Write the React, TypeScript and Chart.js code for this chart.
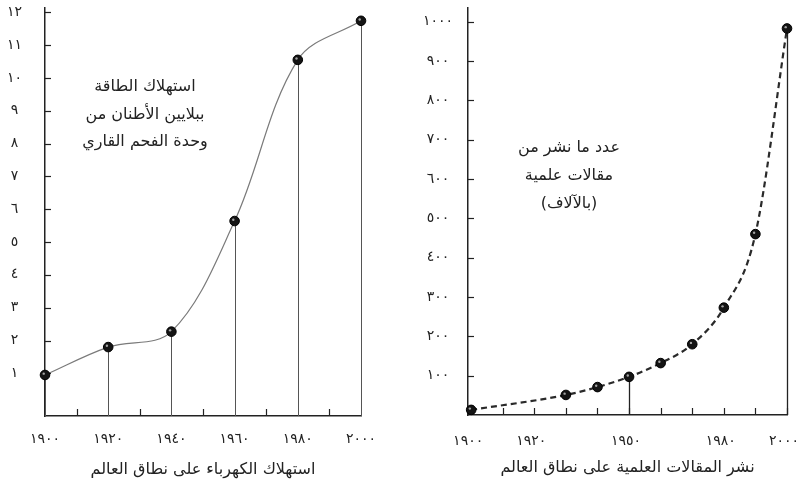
import React, { useEffect, useRef } from 'react';
import { Chart, registerables } from 'chart.js';

Chart.register(...registerables);

// ---------- Data: world energy consumption (left chart) ----------
const energyYears = [1900, 1920, 1940, 1960, 1980, 2000];
const energyValues = [0.95, 1.8, 2.27, 5.64, 10.55, 11.74];
const energyYTicks = [1, 2, 3, 4, 5, 6, 7, 8, 9, 10, 11, 12];
const energyXTicks = [1900, 1920, 1940, 1960, 1980, 2000];
const energyMinorXTicks = [1910, 1930, 1950, 1970, 1990];
const energyTitle = 'استهلاك الكهرباء على نطاق العالم';
const energyNote = ['استهلاك الطاقة', 'ببلايين الأطنان من', 'وحدة الفحم القاري'];

// ---------- Data: scientific papers published (right chart) ----------
const paperYears = [1900, 1930, 1940, 1950, 1960, 1970, 1980, 1990, 2000];
const paperValues = [13, 51, 71, 97, 132, 180, 273, 460, 983];
const paperDropYears = [1950, 2000];
const paperYTicks = [100, 200, 300, 400, 500, 600, 700, 800, 900, 1000];
const paperXTicks = [1900, 1920, 1950, 1980, 2000];
const paperDecadeTicks = [1900, 1910, 1920, 1930, 1940, 1950, 1960, 1970, 1980, 1990, 2000];
const paperTitle = 'نشر المقالات العلمية على نطاق العالم';
const paperNote = ['عدد ما نشر من', 'مقالات علمية', '(بالآلاف)'];

const FONT = '"DejaVu Sans", sans-serif';
const INK = '#222';

const toArabicDigits = (v: number | string) =>
  String(v).replace(/\d/g, (d) => '٠١٢٣٤٥٦٧٨٩'[Number(d)]);

type DecorCfg = {
  years: number[];
  dropYears: number[];
  yTicks: number[];
  xTicks: number[];
  note: string[];
  noteX: number; // offset from chart left
  noteBaselines: number[]; // offsets from chart top
  dropColor: string;
  dropWidth: number;
};

const makeDecor = (cfg: DecorCfg) => ({
  id: 'decor',
  beforeDatasetsDraw(chart: any) {
    const { ctx, chartArea, scales } = chart;
    const xs = scales.x;
    const ys = scales.y;
    ctx.save();
    // drop lines
    const meta = chart.getDatasetMeta(0);
    ctx.strokeStyle = cfg.dropColor;
    ctx.lineWidth = cfg.dropWidth;
    meta.data.forEach((pt: any, i: number) => {
      if (cfg.dropYears.includes(cfg.years[i])) {
        ctx.beginPath();
        ctx.moveTo(Math.round(pt.x) + 0.5, pt.y);
        ctx.lineTo(Math.round(pt.x) + 0.5, chartArea.bottom);
        ctx.stroke();
      }
    });
    // inner tick marks
    ctx.strokeStyle = INK;
    ctx.lineWidth = 1.2;
    cfg.yTicks.forEach((v) => {
      const py = Math.round(ys.getPixelForValue(v)) + 0.5;
      ctx.beginPath();
      ctx.moveTo(chartArea.left, py);
      ctx.lineTo(chartArea.left + 6, py);
      ctx.stroke();
    });
    cfg.xTicks.forEach((v) => {
      const px = Math.round(xs.getPixelForValue(v)) + 0.5;
      ctx.beginPath();
      ctx.moveTo(px, chartArea.bottom);
      ctx.lineTo(px, chartArea.bottom - 7);
      ctx.stroke();
    });
    // annotation text
    ctx.fillStyle = INK;
    ctx.font = `16px ${FONT}`;
    ctx.textAlign = 'center';
    ctx.textBaseline = 'alphabetic';
    (ctx as any).direction = 'rtl';
    cfg.note.forEach((line, i) => {
      ctx.fillText(line, chartArea.left + cfg.noteX, chartArea.top + cfg.noteBaselines[i]);
    });
    ctx.restore();
  },
  afterDatasetsDraw(chart: any) {
    const { ctx } = chart;
    const meta = chart.getDatasetMeta(0);
    ctx.save();
    ctx.fillStyle = 'rgba(200,200,200,0.8)';
    meta.data.forEach((pt: any) => {
      ctx.beginPath();
      ctx.arc(pt.x - 1.3, pt.y - 1.3, 1.2, 0, Math.PI * 2);
      ctx.fill();
    });
    ctx.restore();
  },
});

const tickFont = { family: FONT, size: 14 };
const titleFont = { family: FONT, size: 16 };

export default function App() {
  const leftRef = useRef<HTMLCanvasElement>(null);
  const rightRef = useRef<HTMLCanvasElement>(null);

  useEffect(() => {
    const left = new Chart(leftRef.current!, {
      type: 'line',
      data: {
        datasets: [
          {
            data: energyYears.map((x, i) => ({ x, y: energyValues[i] })),
            borderColor: '#7a7a7a',
            borderWidth: 1.2,
            tension: 0.35,
            pointRadius: 4.8,
            pointBackgroundColor: '#141414',
            pointBorderColor: '#000',
            pointBorderWidth: 1,
            fill: false,
            clip: false,
          } as any,
        ],
      },
      options: {
        responsive: false,
        devicePixelRatio: 1,
        animation: false,
        events: [],
        layout: { padding: { top: 8, right: 39, left: 0, bottom: 0 } },
        plugins: { legend: { display: false }, tooltip: { enabled: false } },
        scales: {
          x: {
            type: 'linear',
            min: 1900,
            max: 2000,
            afterBuildTicks: (s: any) => {
              s.ticks = energyXTicks.map((value) => ({ value }));
            },
            afterFit: (s: any) => {
              s.height = 72;
              s.paddingLeft = 0;
              s.paddingRight = 0;
            },
            grid: { display: false, drawTicks: false },
            border: { display: true, color: INK, width: 1.5 },
            ticks: {
              callback: (v: any) => toArabicDigits(v),
              font: tickFont,
              color: INK,
              padding: 15,
              maxRotation: 0,
              autoSkip: false,
            },
            title: {
              display: true,
              text: energyTitle,
              font: titleFont,
              color: INK,
              padding: { top: 0, bottom: 9 },
            },
          },
          y: {
            type: 'linear',
            min: -0.3,
            max: 12.13,
            afterBuildTicks: (s: any) => {
              s.ticks = energyYTicks.map((value) => ({ value }));
            },
            afterFit: (s: any) => {
              s.width = 45;
              s.paddingTop = 0;
              s.paddingBottom = 0;
            },
            grid: { display: false, drawTicks: false },
            border: { display: true, color: INK, width: 1.5 },
            ticks: {
              callback: (v: any) => toArabicDigits(v),
              font: tickFont,
              color: INK,
              padding: 23,
              crossAlign: 'center',
              autoSkip: false,
            },
          },
        },
      } as any,
      plugins: [
        makeDecor({
          years: energyYears,
          dropYears: energyYears,
          yTicks: energyYTicks,
          xTicks: energyMinorXTicks,
          note: energyNote,
          noteX: 100,
          noteBaselines: [83, 111, 138],
          dropColor: '#555',
          dropWidth: 1,
        }),
      ],
    });

    const right = new Chart(rightRef.current!, {
      type: 'line',
      data: {
        datasets: [
          {
            data: paperYears.map((x, i) => ({ x, y: paperValues[i] })),
            borderColor: '#2a2a2a',
            borderWidth: 2.2,
            borderDash: [6, 4],
            cubicInterpolationMode: 'monotone',
            pointRadius: 4.8,
            pointBackgroundColor: '#141414',
            pointBorderColor: '#000',
            pointBorderWidth: 1,
            fill: false,
            clip: false,
          } as any,
        ],
      },
      options: {
        responsive: false,
        devicePixelRatio: 1,
        animation: false,
        events: [],
        layout: { padding: { top: 8, right: 10, left: 0, bottom: 0 } },
        plugins: { legend: { display: false }, tooltip: { enabled: false } },
        scales: {
          x: {
            type: 'linear',
            min: 1899,
            max: 2000,
            afterBuildTicks: (s: any) => {
              s.ticks = paperXTicks.map((value) => ({ value }));
            },
            afterFit: (s: any) => {
              s.height = 73;
              s.paddingLeft = 0;
              s.paddingRight = 0;
            },
            grid: { display: false, drawTicks: false },
            border: { display: true, color: INK, width: 1.5 },
            ticks: {
              callback: (v: any) => toArabicDigits(v),
              font: tickFont,
              color: INK,
              padding: 18,
              labelOffset: -3,
              maxRotation: 0,
              autoSkip: false,
            },
            title: {
              display: true,
              text: paperTitle,
              font: titleFont,
              color: INK,
              padding: { top: 0, bottom: 11 },
            },
          },
          y: {
            type: 'linear',
            min: 0,
            max: 1035,
            afterBuildTicks: (s: any) => {
              s.ticks = paperYTicks.map((value) => ({ value }));
            },
            afterFit: (s: any) => {
              s.width = 68;
              s.paddingTop = 0;
              s.paddingBottom = 0;
            },
            grid: { display: false, drawTicks: false },
            border: { display: true, color: INK, width: 1.5 },
            ticks: {
              callback: (v: any) => toArabicDigits(v),
              font: tickFont,
              color: INK,
              padding: 15,
              crossAlign: 'center',
              autoSkip: false,
            },
          },
        },
      } as any,
      plugins: [
        makeDecor({
          years: paperYears,
          dropYears: paperDropYears,
          yTicks: paperYTicks,
          xTicks: paperDecadeTicks,
          note: paperNote,
          noteX: 101,
          noteBaselines: [144, 172, 200],
          dropColor: '#222',
          dropWidth: 1.3,
        }),
      ],
    });

    return () => {
      left.destroy();
      right.destroy();
    };
  }, []);

  return (
    <div
      style={{
        position: 'fixed',
        left: 0,
        top: 0,
        width: 797,
        height: 488,
        background: '#fff',
        overflow: 'hidden',
      }}
    >
      <canvas
        ref={leftRef}
        width={400}
        height={488}
        style={{ position: 'absolute', left: 0, top: 0, width: 400, height: 488 }}
      />
      <canvas
        ref={rightRef}
        width={397}
        height={488}
        style={{ position: 'absolute', left: 400, top: 0, width: 397, height: 488 }}
      />
    </div>
  );
}
